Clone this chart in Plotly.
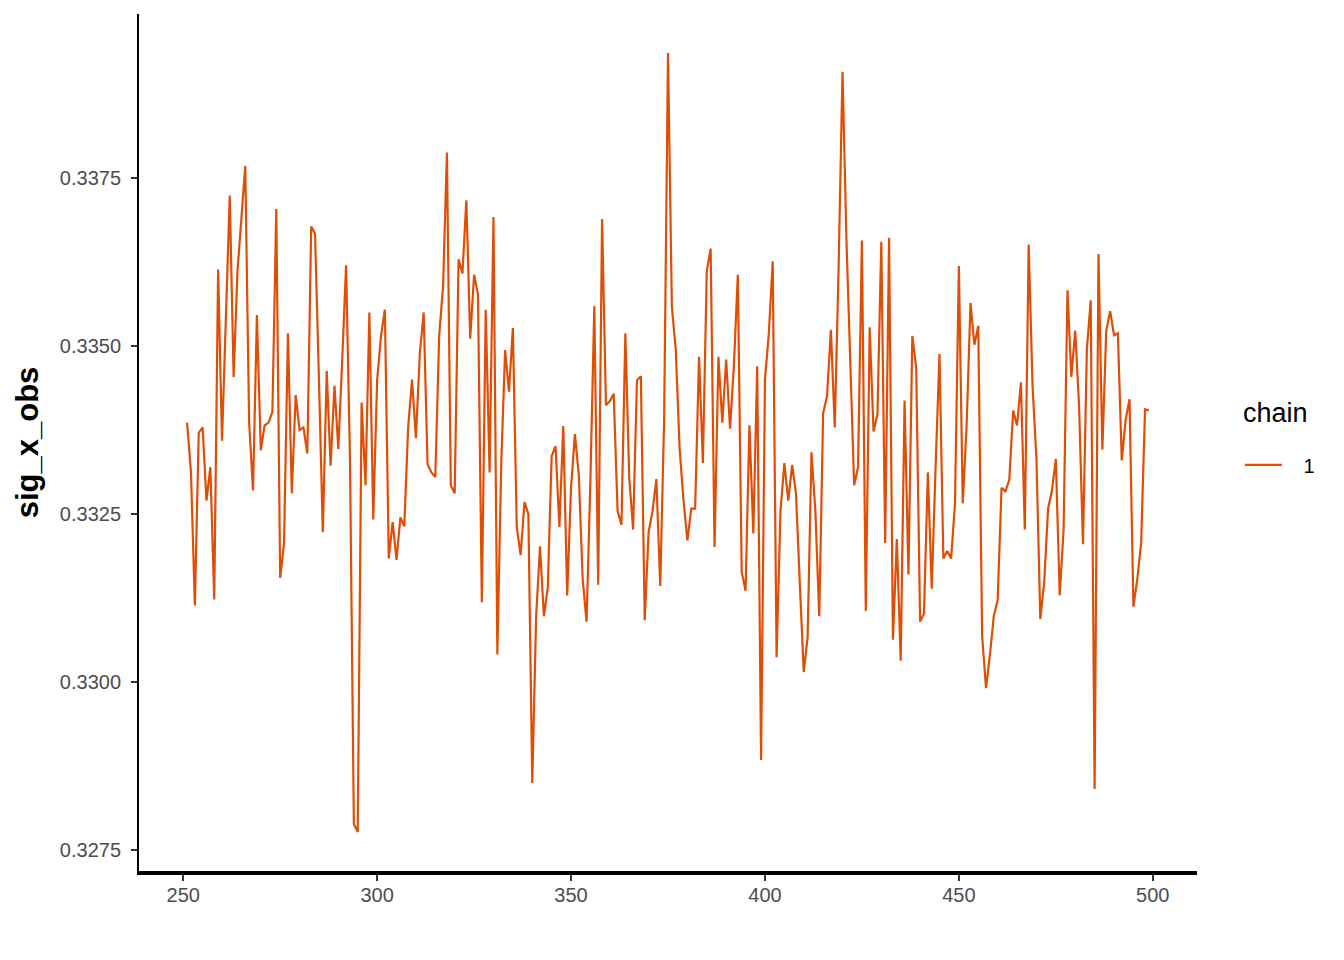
import plotly.graph_objects as go

# iterations (x categories)
iterations = list(range(251, 500))

# chain 1 draws of sig_x_obs
chain1 = [
    0.33386, 0.33312, 0.33114, 0.33371, 0.33379, 0.33270, 0.33320, 0.33123, 0.33614, 0.33359,
    0.33542, 0.33724, 0.33454, 0.33612, 0.33690, 0.33768, 0.33386, 0.33285, 0.33546, 0.33345,
    0.33382, 0.33386, 0.33402, 0.33704, 0.33155, 0.33207, 0.33519, 0.33281, 0.33427, 0.33375,
    0.33379, 0.33340, 0.33678, 0.33667, 0.33450, 0.33223, 0.33463, 0.33322, 0.33441, 0.33347,
    0.33480, 0.33620, 0.33332, 0.32789, 0.32777, 0.33416, 0.33293, 0.33550, 0.33242, 0.33449,
    0.33515, 0.33554, 0.33184, 0.33238, 0.33182, 0.33245, 0.33232, 0.33379, 0.33450, 0.33363,
    0.33488, 0.33550, 0.33324, 0.33312, 0.33305, 0.33515, 0.33589, 0.33788, 0.33293, 0.33281,
    0.33629, 0.33608, 0.33717, 0.33511, 0.33606, 0.33577, 0.33119, 0.33554, 0.33312, 0.33692,
    0.33041, 0.33324, 0.33494, 0.33432, 0.33527, 0.33231, 0.33189, 0.33268, 0.33250, 0.32850,
    0.33098, 0.33202, 0.33098, 0.33141, 0.33336, 0.33351, 0.33231, 0.33381, 0.33129, 0.33289,
    0.33369, 0.33308, 0.33153, 0.33090, 0.33301, 0.33559, 0.33145, 0.33689, 0.33412, 0.33418,
    0.33429, 0.33255, 0.33234, 0.33519, 0.33305, 0.33227, 0.33449, 0.33455, 0.33092, 0.33223,
    0.33254, 0.33302, 0.33143, 0.33390, 0.33936, 0.33558, 0.33495, 0.33347, 0.33270, 0.33211,
    0.33258, 0.33258, 0.33484, 0.33326, 0.33612, 0.33645, 0.33201, 0.33484, 0.33386, 0.33480,
    0.33377, 0.33472, 0.33606, 0.33164, 0.33136, 0.33382, 0.33221, 0.33470, 0.32884, 0.33450,
    0.33519, 0.33626, 0.33037, 0.33254, 0.33326, 0.33270, 0.33323, 0.33281, 0.33145, 0.33015,
    0.33067, 0.33342, 0.33254, 0.33098, 0.33400, 0.33425, 0.33524, 0.33379, 0.33620, 0.33908,
    0.33660, 0.33460, 0.33293, 0.33320, 0.33657, 0.33106, 0.33528, 0.33373, 0.33398, 0.33655,
    0.33207, 0.33661, 0.33063, 0.33213, 0.33032, 0.33419, 0.33160, 0.33515, 0.33468, 0.33090,
    0.33102, 0.33312, 0.33139, 0.33320, 0.33488, 0.33184, 0.33195, 0.33184, 0.33266, 0.33619,
    0.33266, 0.33382, 0.33564, 0.33502, 0.33530, 0.33069, 0.32991, 0.33040, 0.33098, 0.33122,
    0.33289, 0.33284, 0.33301, 0.33404, 0.33382, 0.33446, 0.33227, 0.33651, 0.33441, 0.33332,
    0.33094, 0.33149, 0.33258, 0.33285, 0.33332, 0.33129, 0.33227, 0.33583, 0.33454, 0.33523,
    0.33410, 0.33205, 0.33495, 0.33568, 0.32841, 0.33637, 0.33346, 0.33523, 0.33552, 0.33516,
    0.33519, 0.33330, 0.33390, 0.33421, 0.33112, 0.33153, 0.33207, 0.33406, 0.33404,
]

x_ticks = [250, 300, 350, 400, 450, 500]
y_ticks = [0.3275, 0.3300, 0.3325, 0.3350, 0.3375]
y_tick_labels = ["0.3275", "0.3300", "0.3325", "0.3350", "0.3375"]

FONT = "Liberation Sans, Arial, Helvetica, sans-serif"
LINE_COLOR = "#DF4E06"

fig = go.Figure()
fig.add_trace(go.Scatter(
    x=iterations, y=chain1, mode="lines", name="\u00a0\u00a0\u00a01",
    line=dict(color=LINE_COLOR, width=2.2),
))

fig.update_layout(
    width=1344, height=960,
    paper_bgcolor="white", plot_bgcolor="white",
    margin=dict(l=131, r=155, t=6, b=97),
    font=dict(family=FONT, color="#4D4D4D"),
    showlegend=True,
    legend=dict(
        font=dict(size=20, color="black", family=FONT),
        x=1.0405, y=0.474, xanchor="left", yanchor="middle",
        itemwidth=37,
        bgcolor="rgba(0,0,0,0)",
    ),
    annotations=[dict(
        text="chain", xref="paper", yref="paper", x=1.0416, y=0.5344,
        xanchor="left", yanchor="middle", showarrow=False,
        font=dict(size=27, color="black", family=FONT),
    )],
)

fig.update_xaxes(
    range=[238.6, 511.4], tickvals=x_ticks,
    showgrid=False, zeroline=False,
    showline=True, linecolor="black", linewidth=3.5,
    ticks="outside", ticklen=6, tickwidth=1.5, tickcolor="#333333",
    ticklabelstandoff=-3,
    tickfont=dict(size=20, color="#4D4D4D", family=FONT),
)
fig.update_yaxes(
    range=[0.32719, 0.33994], tickvals=y_ticks, ticktext=y_tick_labels,
    showgrid=False, zeroline=False,
    showline=True, linecolor="black", linewidth=2,
    ticks="outside", ticklen=6, tickwidth=1.5, tickcolor="#333333",
    ticklabelstandoff=6,
    tickfont=dict(size=20, color="#4D4D4D", family=FONT),
    title=dict(text="<b>sig_x_obs</b>", font=dict(size=31, color="black", family=FONT), standoff=12),
)

fig.write_html("out.html")
